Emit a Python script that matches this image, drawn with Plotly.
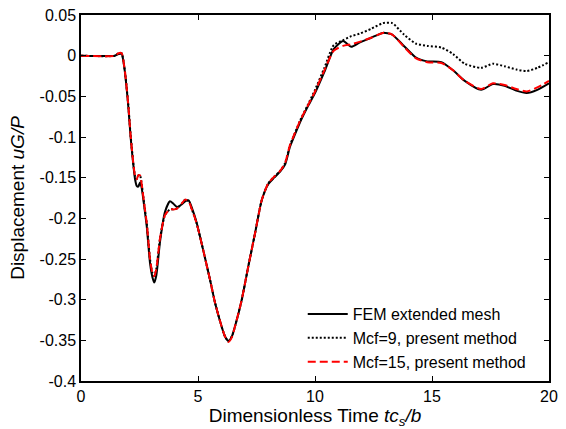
import plotly.graph_objects as go

t = [0, 1.45, 1.6, 1.74, 1.8, 1.88, 2.02, 2.12, 2.22, 2.31, 2.38, 2.45, 2.52, 2.59, 2.7,
     2.81, 2.95, 3.05, 3.13, 3.22, 3.38, 3.59, 3.8, 3.95, 4.1, 4.3, 4.45, 4.6, 4.75, 4.94,
     5.23, 5.51, 5.73, 6.01, 6.15, 6.3, 6.45, 6.58, 6.87, 7.15, 7.44, 7.72, 8.0, 8.25, 8.5,
     8.72, 8.93, 9.07, 9.36, 9.7, 10.0, 10.4, 10.8, 11.2, 11.55, 11.9, 12.4, 12.9, 13.3,
     13.8, 14.3, 14.8, 15.4, 15.9, 16.4, 17.1, 17.6, 18.1, 18.6, 19.05, 19.5, 20]

fem = [0, 0, 0.002, 0.002, -0.005, -0.021, -0.062, -0.1, -0.13, -0.152, -0.16, -0.161, -0.156, -0.162, -0.185,
       -0.21, -0.255, -0.272, -0.279, -0.27, -0.228, -0.192, -0.179, -0.182, -0.186, -0.183, -0.179, -0.178, -0.188, -0.205,
       -0.24, -0.275, -0.304, -0.333, -0.345, -0.351, -0.345, -0.333, -0.3, -0.259, -0.218, -0.178, -0.158, -0.15, -0.143,
       -0.134, -0.112, -0.102, -0.082, -0.062, -0.046, -0.02, 0.008, 0.018, 0.011, 0.016, 0.022, 0.028, 0.026,
       0.012, -0.002, -0.007, -0.008, -0.018, -0.031, -0.042, -0.035, -0.037, -0.043, -0.046, -0.042, -0.034]

mcf9 = [0, 0, 0.003, 0.003, -0.004, -0.02, -0.06, -0.098, -0.128, -0.148, -0.152, -0.147, -0.147, -0.157, -0.182,
        -0.206, -0.25, -0.267, -0.271, -0.262, -0.224, -0.196, -0.189, -0.189, -0.188, -0.182, -0.177, -0.179, -0.19, -0.206,
        -0.24, -0.275, -0.304, -0.333, -0.345, -0.351, -0.345, -0.333, -0.3, -0.259, -0.218, -0.178, -0.157, -0.149, -0.142,
        -0.132, -0.11, -0.1, -0.08, -0.06, -0.042, -0.015, 0.013, 0.019, 0.024, 0.027, 0.033, 0.040, 0.040,
        0.026, 0.015, 0.012, 0.010, 0.002, -0.010, -0.015, -0.010, -0.013, -0.017, -0.019, -0.015, -0.008]

mcf15 = [0, 0, 0.003, 0.003, -0.004, -0.02, -0.06, -0.098, -0.128, -0.148, -0.152, -0.147, -0.147, -0.157, -0.182,
         -0.206, -0.25, -0.267, -0.271, -0.262, -0.224, -0.196, -0.189, -0.189, -0.188, -0.182, -0.177, -0.179, -0.19, -0.206,
         -0.24, -0.275, -0.304, -0.333, -0.345, -0.352, -0.346, -0.333, -0.3, -0.259, -0.218, -0.178, -0.157, -0.149, -0.142,
         -0.132, -0.11, -0.1, -0.08, -0.061, -0.044, -0.018, 0.006, 0.012, 0.014, 0.017, 0.022, 0.028, 0.026,
         0.011, -0.003, -0.008, -0.009, -0.018, -0.031, -0.041, -0.034, -0.036, -0.041, -0.044, -0.039, -0.031]

xticks = [0, 5, 10, 15, 20]
yticks = [0.05, 0, -0.05, -0.1, -0.15, -0.2, -0.25, -0.3, -0.35, -0.4]
ylabels = ["0.05", "0", "-0.05", "-0.1", "-0.15", "-0.2", "-0.25", "-0.3", "-0.35", "-0.4"]

fig = go.Figure()
fig.add_trace(go.Scatter(x=t, y=fem, mode="lines", name="FEM extended mesh",
                         line=dict(color="black", width=2, shape="spline", smoothing=0.6)))
fig.add_trace(go.Scatter(x=t, y=mcf9, mode="lines", name="Mcf=9, present method",
                         line=dict(color="black", width=2, dash="2px,2px", shape="spline", smoothing=0.6)))
fig.add_trace(go.Scatter(x=t, y=mcf15, mode="lines", name="Mcf=15, present method",
                         line=dict(color="red", width=2, dash="8px,4px", shape="spline", smoothing=0.6)))

font = "Liberation Sans, Arial, sans-serif"
fig.update_layout(
    width=566, height=429,
    margin=dict(l=81, r=17, t=15, b=48, autoexpand=False),
    paper_bgcolor="white", plot_bgcolor="white",
    font=dict(family=font, size=16, color="black"),
    showlegend=True,
    legend=dict(x=0.961, y=0.005, xanchor="right", yanchor="bottom",
                bgcolor="rgba(0,0,0,0)", borderwidth=0, itemwidth=40,
                font=dict(size=16), tracegroupgap=0),
)
fig.update_xaxes(range=[0, 20], tickvals=xticks, ticktext=[str(v) for v in xticks],
                 showline=True, linecolor="black", linewidth=1.5, mirror="ticks",
                 ticks="inside", ticklen=5, tickcolor="black", showgrid=False, zeroline=False,
                 automargin=False,
                 title=dict(text="Dimensionless Time <i>tc<sub>s</sub>/b</i>", standoff=7))
fig.update_yaxes(range=[-0.4, 0.05], tickvals=yticks, ticktext=ylabels,
                 showline=True, linecolor="black", linewidth=1.5, mirror="ticks",
                 ticks="inside", ticklen=5, tickcolor="black", showgrid=False, zeroline=False,
                 automargin=False,
                 title=dict(text="Displacement <i>uG/P</i>", standoff=10))

fig.write_html("out.html")
